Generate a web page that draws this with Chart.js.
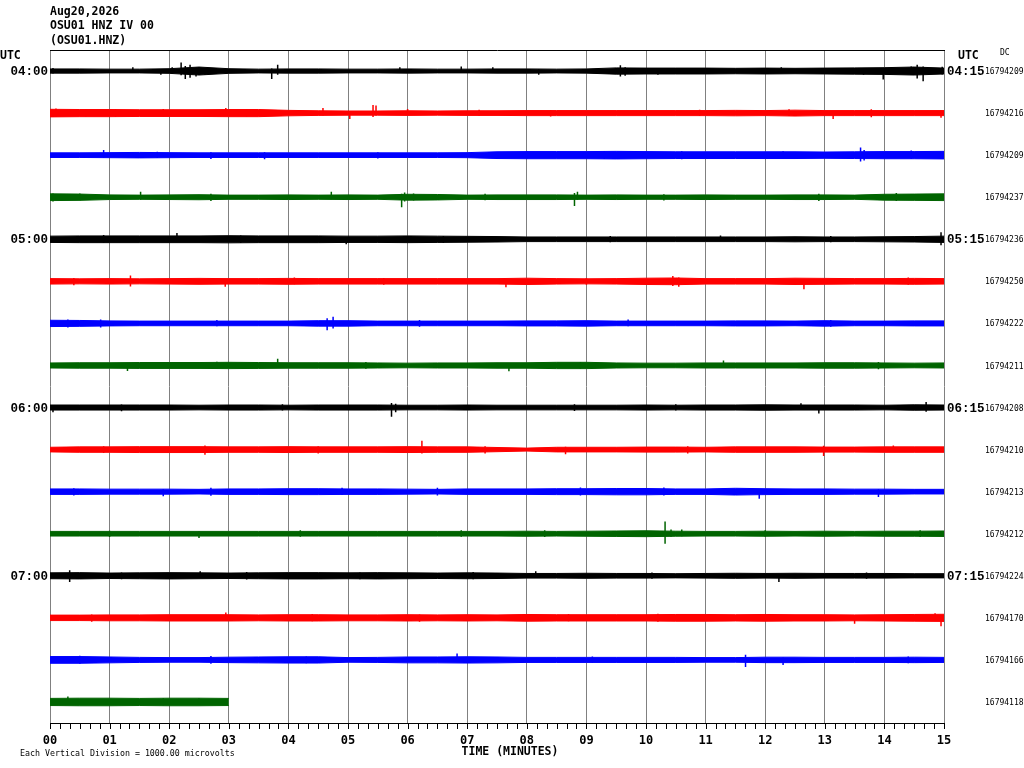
<!DOCTYPE html>
<html lang="en">
<head>
<meta charset="UTF-8">
<title>OSU01 HNZ IV 00</title>
<script src="https://cdn.jsdelivr.net/npm/chart.js"></script>
<style>
  body { margin: 0; background: #fff; }
  #wrap { width: 1024px; height: 768px; }
</style>
</head>
<body>
<div id="wrap"><canvas id="heli" width="1024" height="768"></canvas></div>
<script>
const headerLines = ['Aug20,2026', 'OSU01 HNZ IV 00', '(OSU01.HNZ)'];
const leftTimes = ['04:00', '', '', '', '05:00', '', '', '', '06:00', '', '', '', '07:00', '', '', ''];
const rightTimes = ['04:15', '', '', '', '05:15', '', '', '', '06:15', '', '', '', '07:15', '', '', ''];
const dcCounts = ['16794209', '16794216', '16794209', '16794237', '16794236', '16794250', '16794222', '16794211',
                  '16794208', '16794210', '16794213', '16794212', '16794224', '16794170', '16794166', '16794118'];
const minuteTicks = [0, 1, 2, 3, 4, 5, 6, 7, 8, 9, 10, 11, 12, 13, 14, 15];
const microvoltsPerDivision = 1000;

// half width of the noise band in microvolts, one value every 30 s
const traceEnvelopes = [
  [50,50,45,45,55,95,55,45,50,50,45,45,50,45,45,50,50,45,50,75,70,70,70,65,70,65,70,75,80,95,70],
  [90,85,85,80,80,80,85,85,65,55,50,50,55,50,55,55,60,60,60,60,60,60,60,65,60,70,60,60,60,60,60],
  [55,55,60,65,60,55,55,55,55,55,55,55,55,55,60,80,85,85,85,90,85,80,80,80,80,80,75,80,85,85,90],
  [80,75,55,50,55,60,50,50,55,50,55,50,70,65,50,55,55,55,50,55,50,50,55,50,50,55,55,50,70,75,80],
  [75,80,80,80,80,80,85,80,80,80,75,75,80,75,70,65,55,55,55,55,55,55,55,55,55,60,55,55,60,65,75],
  [65,60,65,60,65,70,65,65,70,65,65,65,65,65,65,65,75,65,60,65,75,80,65,65,65,75,70,65,65,70,65],
  [75,70,60,55,55,55,55,55,55,65,65,55,55,55,55,55,60,60,65,55,55,55,55,60,60,55,65,55,55,60,60],
  [60,65,65,70,70,70,75,70,65,65,65,60,55,60,60,65,65,75,75,60,55,55,60,60,60,60,65,65,60,55,60],
  [60,60,60,60,60,55,60,60,55,60,60,60,55,55,60,55,55,55,55,55,60,55,60,60,65,60,60,60,55,65,60],
  [55,65,65,70,70,70,65,65,70,65,65,65,70,65,65,50,35,55,55,55,60,60,55,65,65,65,60,60,65,65,65],
  [65,65,60,60,60,55,65,65,70,70,65,65,60,55,65,65,65,70,70,75,75,65,65,80,70,65,65,60,60,55,55],
  [55,55,55,55,55,55,55,55,55,55,55,55,55,55,55,55,60,55,60,65,70,60,55,55,60,55,60,55,60,60,65],
  [70,75,65,70,75,70,65,70,75,75,70,75,70,65,70,65,55,55,60,55,55,50,55,60,55,60,55,55,55,50,50],
  [65,65,70,70,75,75,75,70,75,75,70,70,75,70,75,70,80,75,75,75,75,80,80,75,80,75,75,70,75,80,85],
  [80,80,70,60,55,55,65,70,75,75,55,60,70,70,75,70,60,60,60,60,60,60,55,55,65,65,60,60,60,65,60],
  [85,90,90,85,90,90,85]
];

// isolated spikes: [minute, up microvolts, down microvolts]
const traceSpikes = [
  [[0.05,70,60],[1.39,90,40],[1.86,40,90],[2.05,90,60],[2.2,200,100],[2.27,120,190],[2.35,150,160],[2.45,80,130],[2.6,60,90],
   [3.72,60,190],[3.82,150,90],[5.87,90,40],[6.9,110,40],[7.43,90,40],[8.2,40,90],[9.57,140,130],[9.65,90,110],[10.2,40,90],
   [12.27,90,40],[13.65,40,90],[13.98,40,200],[14.45,110,90],[14.55,150,180],[14.65,110,240],[14.97,100,80]],
  [[0.1,110,90],[0.6,90,80],[1.1,90,90],[1.9,100,80],[2.95,120,60],[3.3,90,80],[4.58,120,60],[5.03,40,140],[5.42,190,90],
   [5.47,180,60],[6.0,100,50],[7.2,80,70],[8.4,70,80],[10.9,80,70],[12.4,90,70],[13.14,40,140],[13.78,90,100],[14.95,60,110]],
  [[0.9,120,60],[1.8,80,70],[2.7,70,90],[3.6,70,100],[5.5,70,80],[8.0,100,80],[9.3,100,90],[10.6,90,100],[12.3,90,80],
   [13.6,180,150],[13.66,120,130],[14.45,110,90]],
  [[0.05,90,100],[0.5,90,80],[1.52,130,60],[2.7,80,90],[4.72,130,50],[5.9,80,240],[5.95,110,100],[6.1,90,80],[7.3,80,70],
   [8.8,100,210],[8.85,130,60],[10.3,70,80],[12.9,80,90],[14.2,100,90]],
  [[0.9,100,80],[2.13,150,50],[3.2,90,90],[4.97,40,120],[6.6,80,90],[9.4,80,70],[11.25,90,40],[13.1,80,70],[14.95,170,140]],
  [[0.4,80,90],[1.35,140,120],[2.94,40,130],[4.1,90,70],[5.6,80,80],[7.65,40,140],[9.0,80,80],[10.45,130,110],[10.55,90,130],
   [12.65,40,190],[14.4,90,80]],
  [[0.3,90,100],[0.85,90,100],[2.8,80,70],[4.65,120,160],[4.75,160,120],[6.2,80,80],[9.7,90,70],[13.1,80,80]],
  [[1.3,40,130],[2.8,90,80],[3.82,160,60],[5.3,80,80],[7.7,40,140],[8.9,80,80],[11.3,120,50],[13.9,80,90]],
  [[0.05,50,110],[1.2,70,90],[3.9,80,70],[5.73,110,220],[5.8,90,110],[8.8,80,80],[10.5,80,70],[12.6,100,60],[12.9,50,140],
   [14.7,130,100]],
  [[0.9,80,80],[2.6,100,120],[4.5,80,90],[6.24,210,90],[7.3,80,90],[8.65,70,110],[10.7,80,90],[12.98,90,150],[14.15,100,60]],
  [[0.4,80,90],[1.9,60,110],[2.7,90,100],[4.9,90,80],[6.5,90,90],[8.9,100,90],[10.3,100,90],[11.9,60,170],[13.9,60,130]],
  [[1.0,70,80],[2.5,60,100],[4.2,80,70],[6.9,80,70],[8.3,80,80],[10.32,290,240],[10.42,100,70],[10.6,100,60],[12.0,80,70],
   [14.6,80,80]],
  [[0.33,130,150],[1.2,80,80],[2.52,110,40],[3.3,90,90],[5.2,80,80],[7.1,90,80],[8.15,110,40],[10.1,80,70],[12.23,40,150],
   [13.7,80,70]],
  [[0.7,80,90],[2.95,130,60],[4.4,90,80],[6.2,80,90],[8.7,90,80],[10.2,100,90],[12.0,80,70],[13.5,40,140],[14.85,110,60],
   [14.95,60,200]],
  [[0.5,100,90],[2.7,90,90],[4.3,80,80],[6.83,150,40],[9.1,80,70],[11.67,120,170],[12.3,60,120],[14.4,80,80]],
  [[0.3,130,50],[1.9,90,80],[2.5,90,70]]
];

const traceColors = ['#000000', '#ff0000', '#0000ff', '#006400'];
const envelopeStep = 0.5; // minutes between envelope values

const datasets = [];
traceEnvelopes.forEach((env, i) => {
  const center = i + 0.5;
  const color = traceColors[i % 4];
  datasets.push({
    data: env.map((a, k) => ({ x: k * envelopeStep, y: center - a / microvoltsPerDivision })),
    borderColor: color, backgroundColor: color, borderWidth: 1, pointRadius: 0, fill: false
  });
  datasets.push({
    data: env.map((a, k) => ({ x: k * envelopeStep, y: center + a / microvoltsPerDivision })),
    borderColor: color, backgroundColor: color, borderWidth: 1, pointRadius: 0, fill: '-1'
  });
  traceSpikes[i].forEach(s => {
    datasets.push({
      data: [{ x: s[0], y: center - s[1] / microvoltsPerDivision }, { x: s[0], y: center + s[2] / microvoltsPerDivision }],
      borderColor: color, borderWidth: 1.5, pointRadius: 0, fill: false
    });
  });
});

const heliFrame = {
  id: 'heliFrame',
  afterDraw(chart) {
    const { ctx, chartArea: a, scales: { x, y } } = chart;
    ctx.save();
    ctx.strokeStyle = '#000';
    ctx.lineWidth = 1;
    ctx.beginPath();
    ctx.moveTo(a.left, a.top + 0.5); ctx.lineTo(a.right + 1, a.top + 0.5);
    ctx.moveTo(a.left, a.bottom + 0.5); ctx.lineTo(a.right + 1, a.bottom + 0.5);
    for (let s = 0; s <= 15 * 60; s += 10) {
      const px = Math.round(x.getPixelForValue(s / 60)) + 0.5;
      ctx.moveTo(px, a.bottom); ctx.lineTo(px, a.bottom + 6);
    }
    ctx.stroke();

    ctx.fillStyle = '#000';
    ctx.textBaseline = 'middle';
    ctx.textAlign = 'left';
    ctx.font = 'bold 11.5px "DejaVu Sans Mono"';
    headerLines.forEach((t, k) => ctx.fillText(t, 50, 12 + k * 14.5));
    ctx.fillText('UTC', 0, 56);
    ctx.fillText('UTC', 958, 56);

    ctx.font = '8px "DejaVu Sans Mono"';
    ctx.fillText('DC', 1000, 53);
    dcCounts.forEach((c, i) => ctx.fillText(c, 985, y.getPixelForValue(i + 0.5) + 1));
    ctx.font = '8.3px "DejaVu Sans Mono"';
    ctx.fillText('Each Vertical Division = ' + microvoltsPerDivision.toFixed(2) + ' microvolts', 20, 754);

    ctx.font = 'bold 12.5px "Liberation Mono"';
    leftTimes.forEach((t, i) => {
      if (!t) return;
      const py = y.getPixelForValue(i + 0.5) + 1;
      ctx.textAlign = 'right';
      ctx.fillText(t, 48, py);
      ctx.textAlign = 'left';
      ctx.fillText(rightTimes[i], 947, py);
    });

    ctx.font = 'bold 12px "DejaVu Sans Mono"';
    ctx.textAlign = 'center';
    minuteTicks.forEach(m => ctx.fillText(String(m).padStart(2, '0'), x.getPixelForValue(m), 741));
    ctx.font = 'bold 11.5px "DejaVu Sans Mono"';
    ctx.fillText('TIME (MINUTES)', 510, 752);
    ctx.restore();
  }
};

new Chart(document.getElementById('heli'), {
  type: 'line',
  data: { datasets },
  options: {
    responsive: false,
    animation: false,
    layout: { padding: { left: 50, right: 80, top: 50, bottom: 45 } },
    plugins: { legend: { display: false }, tooltip: { enabled: false } },
    scales: {
      x: {
        type: 'linear', min: 0, max: 15,
        ticks: { display: false, stepSize: 1 },
        grid: { color: '#808080', lineWidth: 1, drawTicks: false },
        border: { display: false }
      },
      y: {
        type: 'linear', min: 0, max: 16, reverse: true,
        display: false
      }
    }
  },
  plugins: [heliFrame]
});
</script>
</body>
</html>
